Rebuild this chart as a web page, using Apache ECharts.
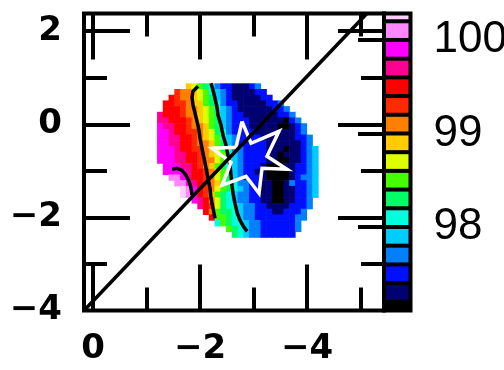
<!DOCTYPE html>
<html>
<head>
<meta charset="utf-8">
<script src="https://cdn.jsdelivr.net/npm/echarts@6/dist/echarts.min.js"></script>
<style>
  html, body { margin: 0; padding: 0; background: #fff; }
  #chart { width: 504px; height: 370px; }
</style>
</head>
<body>
<div id="chart"></div>
<script>
// axis ranges (x runs from +0.17 on the left to -5.44 on the right)
const xMin = -5.44, xMax = 0.17;
const yMin = -4, yMax = 2.38;
const xMajor = [0, -2, -4];
const xMinor = [-1, -3, -5];
const yMajor = [2, 0, -2];
const yMinor = [1, -1, -3];
const yLabels = [2, 0, -2, -4];

// colour bar: 0.2 wide steps from 97.0 upward
const cbMin = 97.107, cbMax = 100.283;
const cbLabels = [98, 99, 100];
const bandLow = 97.0, bandStep = 0.2;
const bandColors = [
  "#000000", "#000070", "#0010ff", "#0080ff", "#00ccff", "#00ffdd",
  "#00ff66", "#44ff00", "#ddff00", "#ffcc00", "#ff8000", "#ff2a00",
  "#ff0000", "#ff0090", "#ff00ff", "#ff88ff", "#ffd0ff"
];

// map cells, one char per cell = colour step (0 = lowest .. g = highest)
const levelChars = "0123456789abcdefg";
const cellX0 = -1.196, cellY0 = 0.880, cellW = 0.1075, cellH = 0.1224;
const mapRows = [
  ".....9876532211123..........",
  "...baa9875432111122.........",
  "..cbaa98764321111122........",
  ".ccbba9976532211111223......",
  ".cccbaa9875432111111223.....",
  "dcccbaa98764322111111223....",
  "ddcccba987643222111111023...",
  "eddccbaa976432221111100123..",
  "eedccbba986532222111111123..",
  "eeddccba9875432222111111223.",
  "eeddccbaa976432222211111123.",
  "eeedccbba9865332222111011234",
  "eeeddccba9875432222110111234",
  "eeeddccbaa876432222110011234",
  ".eeeddcba9765432221000112234",
  ".eeeedccba876432211000012234",
  "..ffedccba876432221000012334",
  "...ffedcba976533221100132234",
  "....gfecba876543221100112234",
  "....gfecb9765433221100112234",
  "......edca86543322110011223.",
  ".......dcb86554332211112223.",
  "........ca7665433222112223..",
  ".........c7765433222222233..",
  "..........576554332222223...",
  "............7654332222223...",
  ".............65433222222...."
];

// contour lines (x, y)
const contour99 = [
  [-1.963, 0.816], [-1.869, 0.709], [-1.850, 0.580], [-1.869, 0.408],
  [-1.907, 0.236], [-1.944, 0.064], [-1.981, -0.129], [-2.000, -0.301],
  [-2.037, -0.516], [-2.075, -0.730], [-2.112, -0.945], [-2.150, -1.160],
  [-2.187, -1.375], [-2.206, -1.590], [-2.243, -1.804], [-2.280, -2.019]
];
const contour98 = [
  [-2.206, 0.881], [-2.243, 0.730], [-2.280, 0.559], [-2.318, 0.365],
  [-2.336, 0.193], [-2.393, -0.021], [-2.430, -0.236], [-2.486, -0.451],
  [-2.523, -0.666], [-2.561, -0.881], [-2.579, -1.096], [-2.598, -1.310],
  [-2.617, -1.482], [-2.654, -1.697], [-2.692, -1.890], [-2.748, -2.062],
  [-2.822, -2.213], [-2.879, -2.299]
];
const contour100 = [
  [-1.477, -0.967], [-1.570, -0.945], [-1.664, -0.988], [-1.738, -1.096],
  [-1.794, -1.224], [-1.832, -1.375], [-1.850, -1.525]
];

// star outline
const starPts = [
  [-2.785, 0.064], [-2.953, -0.408], [-3.477, -0.150], [-3.252, -0.687],
  [-3.626, -0.967], [-3.159, -0.945], [-3.103, -1.482], [-2.860, -1.117],
  [-2.411, -1.310], [-2.579, -0.816], [-2.224, -0.516], [-2.673, -0.494],
  [-2.785, 0.064]
];

// diagonal line
const diagLine = [[0.17, -4], [-5.12, 2.38]];

const heatData = [];
mapRows.forEach((row, r) => {
  for (let c = 0; c < row.length; c++) {
    const k = levelChars.indexOf(row[c]);
    if (k < 0) continue;
    heatData.push([
      cellX0 - (c + 0.5) * cellW,
      cellY0 - (r + 0.5) * cellH,
      bandLow + bandStep * (k + 0.5)
    ]);
  }
});

const bandData = bandColors.map((col, k) => [bandLow + k * bandStep, bandLow + (k + 1) * bandStep, k]);

const minus = (v) => (v < 0 ? "\u2212" + Math.abs(v) : String(v));
const labelFont = { fontFamily: "DejaVu Sans", fontSize: 34, fontWeight: "bold", color: "#000" };
const tickStyle = { color: "#000", width: 4 };

function tickAxis(pos, values, len, labels) {
  const horiz = pos === "top" || pos === "bottom";
  return {
    type: "value", gridIndex: 0, position: pos,
    min: horiz ? xMin : yMin,
    max: horiz ? xMax : yMax,
    inverse: horiz,
    axisLine: { show: false, onZero: false },
    splitLine: { show: false },
    axisTick: { show: true, inside: true, length: len, customValues: values, lineStyle: tickStyle },
    axisLabel: labels
      ? Object.assign({ show: true, customValues: labels, formatter: minus, margin: pos === "left" ? 22 : 22 }, labelFont)
      : { show: false }
  };
}

const chart = echarts.init(document.getElementById("chart"));
chart.setOption({
  animation: false,
  backgroundColor: "#fff",
  grid: [
    { left: 84, top: 13.5, width: 300, height: 297, show: true, borderColor: "#000", borderWidth: 4, outerBoundsMode: "none" },
    { left: 384, top: 13.5, width: 26.5, height: 297, show: true, backgroundColor: "#000", borderColor: "#000", borderWidth: 4, outerBoundsMode: "none" }
  ],
  xAxis: [
    tickAxis("bottom", xMajor, 46, xMajor),
    tickAxis("bottom", xMinor, 23),
    tickAxis("top", xMajor, 46),
    tickAxis("top", xMinor, 23),
    { type: "value", gridIndex: 1, min: 0, max: 1, show: false }
  ],
  yAxis: [
    tickAxis("left", yMajor, 46, yLabels),
    tickAxis("left", yMinor, 23),
    tickAxis("right", yMajor, 46),
    tickAxis("right", yMinor, 23),
    {
      type: "value", gridIndex: 1, position: "right", min: cbMin, max: cbMax,
      axisLine: { show: false, onZero: false }, splitLine: { show: false }, axisTick: { show: false },
      axisLabel: { show: true, customValues: cbLabels, margin: 23, fontFamily: "Liberation Sans", fontSize: 44, color: "#000" }
    },
    {
      type: "value", gridIndex: 1, position: "left", min: cbMin, max: cbMax,
      axisLine: { show: false, onZero: false }, splitLine: { show: false }, axisLabel: { show: false },
      axisTick: { show: true, inside: false, length: 26, customValues: cbLabels, lineStyle: tickStyle }
    }
  ],
  visualMap: {
    type: "piecewise", show: false, seriesIndex: 0, dimension: 2,
    pieces: bandColors.map((col, k) => ({ gte: bandLow + k * bandStep, lt: bandLow + (k + 1) * bandStep, color: col }))
  },
  series: [
    {
      type: "custom", xAxisIndex: 0, yAxisIndex: 0, data: heatData, z: 1,
      renderItem(params, api) {
        const x = api.value(0), y = api.value(1);
        const a = api.coord([x + cellW / 2, y + cellH / 2]);
        const b = api.coord([x - cellW / 2, y - cellH / 2]);
        return {
          type: "rect",
          shape: { x: Math.min(a[0], b[0]), y: Math.min(a[1], b[1]), width: Math.abs(b[0] - a[0]) + 0.6, height: Math.abs(b[1] - a[1]) + 0.6 },
          style: { fill: api.visual("color") }
        };
      }
    },
    { type: "line", xAxisIndex: 0, yAxisIndex: 0, data: contour99, showSymbol: false, z: 3, lineStyle: { color: "#000", width: 3.5 } },
    { type: "line", xAxisIndex: 0, yAxisIndex: 0, data: contour98, showSymbol: false, z: 3, lineStyle: { color: "#000", width: 3.5 } },
    { type: "line", xAxisIndex: 0, yAxisIndex: 0, data: contour100, showSymbol: false, z: 3, lineStyle: { color: "#000", width: 3.5 } },
    { type: "line", xAxisIndex: 0, yAxisIndex: 0, data: starPts, showSymbol: false, z: 4, lineStyle: { color: "#fff", width: 3.5, join: "miter" } },
    { type: "line", xAxisIndex: 0, yAxisIndex: 0, data: diagLine, showSymbol: false, z: 5, lineStyle: { color: "#000", width: 3.5 } },
    {
      type: "custom", xAxisIndex: 4, yAxisIndex: 4, data: bandData, z: 2,
      renderItem(params, api) {
        const cs = params.coordSys;
        const top = api.coord([0, api.value(1)]);
        const bot = api.coord([1, api.value(0)]);
        const y1 = Math.max(top[1] + 2, cs.y + 2);
        const y2 = Math.min(bot[1] - 2, cs.y + cs.height - 2);
        if (y2 <= y1) return;
        return {
          type: "rect",
          shape: { x: cs.x + 2, y: y1, width: cs.width - 4, height: y2 - y1 },
          style: { fill: bandColors[api.value(2)] }
        };
      }
    }
  ]
});
</script>
</body>
</html>
